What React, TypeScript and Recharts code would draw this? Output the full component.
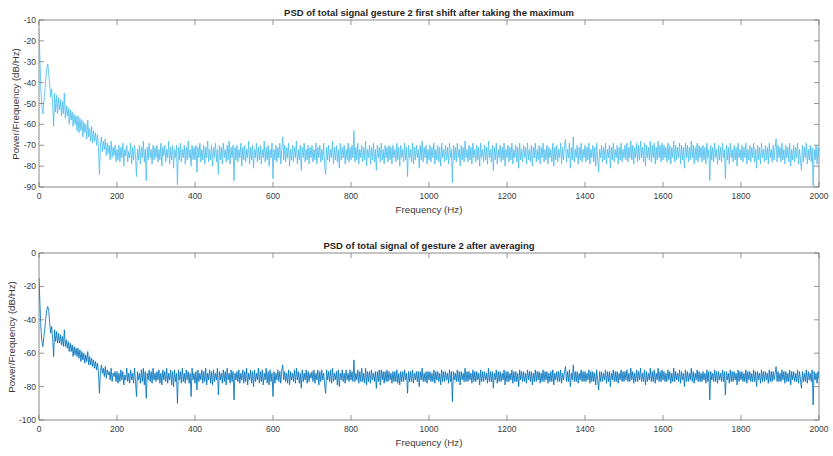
import { LineChart, Line, XAxis, YAxis, ReferenceArea } from 'recharts';

// spacing between PSD bins (Hz)
const FREQ_STEP = 2.5;

const freqTicks = [0, 200, 400, 600, 800, 1000, 1200, 1400, 1600, 1800, 2000];
const maxTicks = [-90, -80, -70, -60, -50, -40, -30, -20, -10];
const avgTicks = [-100, -80, -60, -40, -20, 0];

// PSD after taking the maximum (dB/Hz), 2.5 Hz bins, one row = 100 Hz
const psdMax = [
  -14, -30, -44, -52, -55, -49, -44, -38, -33, -31, -36, -41, -47, -43, -50, -61, -45, -54, -46, -55, -47, -53, -48, -56, -49, -55, -45, -57, -51, -56, -52, -60, -53, -58, -54, -61, -55, -60, -56, -63,
  -56, -64, -57, -63, -58, -66, -59, -64, -60, -67, -58, -66, -62, -68, -61, -69, -63, -68, -64, -70, -65, -71, -84, -70, -66, -73, -68, -72, -67, -75, -69, -74, -70, -77, -68, -76, -71, -75, -70, -78,
  -72, -77, -70, -78, -71, -76, -69, -80, -72, -75, -70, -78, -73, -76, -69, -79, -71, -77, -70, -76, -85, -72, -77, -70, -79, -71, -76, -68, -78, -72, -87, -71, -77, -69, -76, -72, -79, -70, -77, -71,
  -76, -70, -78, -72, -77, -69, -80, -71, -75, -70, -78, -72, -76, -68, -79, -71, -77, -70, -81, -72, -76, -70, -89, -71, -77, -69, -78, -72, -76, -70, -79, -71, -77, -68, -76, -72, -80, -70, -77, -71,
  -77, -70, -83, -71, -76, -69, -78, -72, -77, -70, -79, -71, -76, -68, -78, -72, -77, -70, -80, -71, -76, -69, -78, -72, -84, -70, -77, -71, -79, -69, -76, -72, -78, -70, -77, -68, -79, -71, -76, -70,
  -87, -71, -77, -70, -78, -72, -76, -69, -80, -71, -77, -70, -78, -72, -76, -68, -79, -71, -77, -70, -81, -72, -76, -69, -78, -71, -77, -70, -79, -72, -76, -68, -78, -71, -77, -70, -80, -72, -76, -69,
  -86, -72, -77, -70, -78, -71, -76, -69, -79, -72, -66, -77, -70, -78, -71, -76, -69, -80, -72, -77, -70, -78, -71, -76, -68, -79, -72, -77, -70, -82, -71, -76, -69, -78, -72, -77, -70, -79, -71, -76,
  -70, -78, -72, -77, -69, -79, -71, -76, -70, -78, -72, -77, -69, -80, -84, -71, -77, -70, -78, -72, -76, -68, -79, -71, -77, -70, -78, -72, -81, -69, -77, -71, -76, -70, -79, -72, -77, -69, -78, -71,
  -77, -70, -76, -63, -78, -71, -77, -69, -79, -72, -76, -70, -78, -71, -77, -68, -80, -72, -76, -70, -79, -71, -77, -69, -78, -72, -82, -70, -76, -71, -78, -69, -77, -72, -79, -70, -76, -71, -78, -70,
  -77, -71, -79, -70, -76, -72, -78, -69, -77, -71, -80, -70, -76, -72, -78, -69, -77, -71, -85, -70, -76, -72, -78, -69, -79, -71, -77, -70, -76, -72, -81, -70, -77, -68, -78, -71, -76, -70, -79, -72,
  -77, -70, -78, -71, -76, -69, -79, -72, -77, -70, -78, -71, -80, -69, -76, -72, -78, -70, -77, -71, -79, -69, -76, -72, -88, -70, -77, -71, -78, -69, -76, -72, -80, -70, -77, -71, -78, -68, -76, -72,
  -78, -70, -77, -71, -79, -69, -76, -72, -78, -70, -77, -71, -80, -69, -76, -72, -78, -70, -77, -71, -79, -68, -76, -72, -78, -70, -82, -71, -77, -69, -79, -72, -76, -70, -78, -71, -77, -69, -80, -72,
  -76, -70, -78, -71, -77, -69, -79, -72, -76, -70, -78, -71, -81, -69, -77, -72, -78, -70, -76, -71, -79, -69, -77, -72, -78, -70, -80, -71, -76, -69, -78, -72, -77, -70, -79, -71, -76, -69, -78, -72,
  -77, -70, -79, -71, -76, -72, -78, -69, -80, -71, -77, -70, -78, -72, -76, -69, -79, -71, -77, -70, -67, -78, -72, -76, -69, -81, -71, -77, -66, -78, -72, -76, -70, -79, -71, -77, -69, -78, -72, -76,
  -70, -78, -71, -77, -69, -79, -72, -76, -70, -78, -71, -80, -69, -77, -83, -72, -76, -70, -78, -71, -77, -69, -79, -72, -76, -70, -81, -71, -77, -69, -78, -72, -76, -70, -79, -71, -77, -69, -78, -72,
  -76, -70, -77, -69, -78, -71, -76, -68, -77, -70, -79, -71, -76, -69, -78, -70, -77, -68, -76, -71, -78, -69, -80, -70, -76, -71, -77, -68, -78, -70, -76, -69, -79, -71, -77, -68, -76, -70, -78, -69,
  -77, -70, -76, -71, -78, -69, -77, -70, -79, -71, -76, -68, -78, -70, -77, -71, -76, -69, -79, -70, -77, -71, -81, -69, -76, -70, -78, -71, -77, -68, -76, -70, -79, -71, -77, -69, -78, -70, -76, -71,
  -78, -70, -77, -71, -79, -69, -76, -72, -87, -70, -77, -71, -78, -69, -76, -72, -79, -70, -77, -71, -78, -69, -76, -72, -86, -70, -77, -71, -79, -69, -76, -72, -78, -70, -77, -71, -80, -69, -76, -72,
  -77, -70, -78, -71, -76, -69, -79, -72, -77, -70, -78, -71, -76, -69, -78, -72, -81, -70, -77, -71, -79, -69, -76, -72, -78, -70, -77, -71, -79, -69, -76, -72, -78, -70, -77, -71, -67, -78, -70, -76,
  -71, -78, -69, -77, -72, -79, -70, -76, -71, -78, -69, -80, -72, -77, -70, -78, -71, -76, -69, -79, -72, -77, -82, -70, -78, -71, -76, -69, -79, -72, -77, -70, -78, -71, -90, -72, -77, -70, -79, -71,
  -76,
];

// PSD after averaging (dB/Hz), same bins
const psdAvg = [
  -15, -31, -45, -53, -56, -50, -45, -39, -34, -32, -35, -42, -48, -44, -51, -62, -46, -53, -47, -54, -48, -54, -49, -55, -50, -56, -46, -56, -52, -57, -53, -59, -54, -59, -55, -62, -56, -61, -57, -62,
  -57, -63, -58, -65, -59, -64, -60, -66, -61, -65, -59, -67, -62, -67, -63, -68, -64, -69, -65, -70, -66, -72, -84, -71, -67, -72, -69, -74, -68, -75, -70, -73, -71, -76, -69, -77, -72, -74, -71, -77,
  -71, -78, -72, -77, -70, -76, -71, -79, -73, -76, -69, -77, -72, -78, -70, -76, -72, -78, -69, -77, -86, -71, -76, -72, -78, -70, -77, -69, -79, -71, -87, -72, -76, -70, -77, -71, -78, -69, -76, -72,
  -77, -71, -76, -70, -78, -72, -79, -70, -76, -71, -77, -69, -78, -72, -76, -70, -79, -71, -80, -70, -77, -72, -90, -70, -76, -71, -78, -69, -77, -72, -78, -70, -76, -71, -78, -72, -86, -69, -76, -72,
  -78, -71, -82, -70, -77, -72, -76, -70, -78, -71, -77, -69, -79, -72, -76, -70, -78, -71, -79, -70, -77, -72, -76, -69, -85, -71, -76, -72, -78, -70, -77, -71, -79, -69, -76, -72, -78, -70, -77, -71,
  -88, -72, -76, -71, -77, -70, -78, -72, -76, -70, -78, -71, -77, -69, -79, -72, -76, -70, -78, -71, -80, -70, -77, -72, -76, -69, -78, -71, -77, -70, -79, -72, -76, -69, -78, -71, -79, -70, -77, -72,
  -86, -71, -78, -72, -76, -70, -77, -71, -78, -70, -67, -76, -71, -77, -72, -78, -70, -79, -71, -76, -72, -77, -70, -78, -69, -76, -71, -78, -72, -81, -70, -77, -72, -76, -70, -78, -71, -77, -72, -75,
  -71, -77, -70, -78, -72, -76, -70, -79, -71, -77, -70, -76, -72, -79, -84, -70, -76, -71, -77, -70, -78, -69, -77, -72, -76, -71, -79, -70, -80, -72, -76, -70, -77, -72, -78, -70, -76, -72, -77, -70,
  -76, -71, -77, -64, -77, -72, -76, -70, -78, -71, -77, -69, -77, -72, -78, -69, -79, -71, -77, -71, -78, -70, -76, -72, -77, -71, -81, -71, -77, -70, -79, -70, -76, -71, -78, -71, -77, -70, -77, -71,
  -76, -72, -78, -71, -77, -71, -77, -70, -78, -72, -79, -71, -77, -71, -77, -70, -76, -72, -84, -71, -77, -71, -77, -70, -78, -72, -76, -71, -77, -71, -80, -71, -76, -69, -77, -72, -77, -71, -78, -71,
  -76, -71, -77, -72, -77, -70, -78, -71, -76, -71, -77, -72, -79, -70, -77, -71, -77, -71, -76, -72, -78, -70, -77, -71, -89, -71, -76, -72, -77, -70, -77, -71, -79, -71, -76, -72, -77, -69, -77, -71,
  -77, -71, -76, -72, -78, -70, -77, -71, -77, -71, -76, -72, -79, -70, -77, -71, -77, -71, -76, -72, -78, -69, -77, -71, -77, -71, -81, -72, -76, -70, -78, -71, -77, -71, -77, -72, -76, -70, -79, -71,
  -77, -71, -77, -72, -76, -70, -78, -71, -77, -71, -77, -72, -80, -70, -76, -71, -77, -71, -77, -72, -78, -70, -76, -71, -77, -71, -79, -72, -77, -70, -77, -71, -76, -71, -78, -72, -77, -70, -77, -71,
  -76, -71, -78, -72, -77, -71, -77, -70, -79, -72, -76, -71, -77, -71, -77, -70, -78, -72, -76, -71, -68, -77, -71, -77, -70, -80, -72, -76, -67, -77, -71, -77, -71, -78, -72, -76, -70, -77, -71, -77,
  -71, -77, -72, -76, -70, -78, -71, -77, -71, -77, -72, -79, -70, -76, -82, -71, -77, -71, -77, -72, -76, -70, -78, -71, -77, -71, -80, -72, -76, -70, -77, -71, -77, -71, -78, -72, -76, -70, -77, -71,
  -77, -71, -76, -70, -77, -72, -77, -69, -76, -71, -78, -72, -77, -70, -77, -71, -76, -69, -77, -72, -77, -70, -79, -71, -77, -72, -76, -69, -77, -71, -77, -70, -78, -72, -76, -69, -77, -71, -77, -70,
  -76, -71, -77, -72, -77, -70, -76, -71, -78, -72, -77, -69, -77, -71, -76, -72, -77, -70, -78, -71, -76, -72, -80, -70, -77, -71, -77, -72, -76, -69, -77, -71, -78, -72, -76, -70, -77, -71, -77, -72,
  -77, -71, -76, -72, -78, -70, -77, -71, -88, -71, -76, -72, -77, -70, -77, -71, -78, -71, -76, -72, -77, -70, -77, -71, -85, -71, -76, -72, -78, -70, -77, -71, -77, -71, -76, -72, -79, -70, -77, -71,
  -76, -71, -77, -72, -77, -70, -78, -71, -76, -71, -77, -72, -77, -70, -77, -71, -80, -71, -76, -72, -78, -70, -77, -71, -77, -71, -76, -72, -78, -70, -77, -71, -77, -71, -76, -72, -68, -77, -71, -77,
  -72, -77, -70, -76, -71, -78, -71, -77, -72, -77, -70, -79, -71, -76, -71, -77, -72, -77, -70, -78, -71, -76, -81, -71, -77, -72, -77, -70, -78, -71, -76, -72, -77, -70, -91, -71, -76, -72, -78, -71,
  -75,
];

const W = 833;
const H = 230;
const Y_AXIS_W = 39;
const X_AXIS_H = 43;
const margin = { top: 20, right: 14, bottom: 0, left: 0 };
const plotTop = margin.top;
const plotBottom = H - X_AXIS_H;
const plotLeft = Y_AXIS_W;
const plotRight = W - margin.right;

const AXIS = '#7a7a7a';
const TEXT = '#3a3a3a';
const FONT = '"Liberation Sans", Arial, sans-serif';

const toRows = (values: number[]) => values.map((v, i) => ({ freq: i * FREQ_STEP, psd: v }));

const XTick = ({ x, payload }: any) => (
  <g>
    <line x1={x} x2={x} y1={plotBottom} y2={plotBottom - 5} stroke={AXIS} strokeWidth={0.8} />
    <line x1={x} x2={x} y1={plotTop} y2={plotTop + 5} stroke={AXIS} strokeWidth={0.8} />
    <text x={x} y={plotBottom + 12} textAnchor="middle" fontSize={8.5} fill={TEXT} fontFamily={FONT}>
      {payload.value}
    </text>
  </g>
);

const YTick = ({ y, payload }: any) => (
  <g>
    <line x1={plotLeft} x2={plotLeft + 5} y1={y} y2={y} stroke={AXIS} strokeWidth={0.8} />
    <line x1={plotRight - 5} x2={plotRight} y1={y} y2={y} stroke={AXIS} strokeWidth={0.8} />
    <text x={plotLeft - 3} y={y + 3} textAnchor="end" fontSize={8.5} fill={TEXT} fontFamily={FONT}>
      {payload.value}
    </text>
  </g>
);

interface PanelProps {
  top: number;
  title: string;
  values: number[];
  color: string;
  yTicks: number[];
  yLabelX: number;
}

const Panel = ({ top, title, values, color, yTicks, yLabelX }: PanelProps) => {
  const yMin = yTicks[0];
  const yMax = yTicks[yTicks.length - 1];
  return (
    <div style={{ position: 'absolute', left: 0, top, width: W, height: H }}>
      <LineChart width={W} height={H} data={toRows(values)} margin={margin}>
        <XAxis
          dataKey="freq"
          type="number"
          domain={[0, 2000]}
          allowDataOverflow
          ticks={freqTicks}
          height={X_AXIS_H}
          axisLine={false}
          tickLine={false}
          tick={<XTick />}
          interval={0}
        />
        <YAxis
          type="number"
          domain={[yMin, yMax]}
          ticks={yTicks}
          width={Y_AXIS_W}
          axisLine={false}
          tickLine={false}
          tick={<YTick />}
          interval={0}
        />
        <Line
          dataKey="psd"
          type="linear"
          stroke={color}
          strokeWidth={0.85}
          dot={false}
          isAnimationActive={false}
        />
        <ReferenceArea
          x1={0}
          x2={2000}
          y1={yMin}
          y2={yMax}
          fill="none"
          stroke={AXIS}
          strokeWidth={0.9}
        />
      </LineChart>
      <div
        style={{
          position: 'absolute',
          left: plotLeft,
          width: plotRight - plotLeft,
          top: 7,
          textAlign: 'center',
          fontFamily: FONT,
          fontSize: 9.5,
          fontWeight: 'bold',
          color: '#1f1f1f',
        }}
      >
        {title}
      </div>
      <div
        style={{
          position: 'absolute',
          left: plotLeft,
          width: plotRight - plotLeft,
          top: plotBottom + 17,
          textAlign: 'center',
          fontFamily: FONT,
          fontSize: 9.7,
          color: TEXT,
        }}
      >
        Frequency (Hz)
      </div>
      <div
        style={{
          position: 'absolute',
          left: yLabelX,
          top: (plotTop + plotBottom) / 2,
          transform: 'translate(-50%, -50%) rotate(-90deg)',
          whiteSpace: 'nowrap',
          fontFamily: FONT,
          fontSize: 9.7,
          color: TEXT,
        }}
      >
        Power/Frequency (dB/Hz)
      </div>
    </div>
  );
};

export default function App() {
  return (
    <div style={{ position: 'absolute', left: 0, top: 0, width: W, height: 456, background: '#fff' }}>
      <Panel
        top={0}
        title="PSD of total signal gesture 2 first shift after taking the maximum"
        values={psdMax}
        color="#4DBEEE"
        yTicks={maxTicks}
        yLabelX={15}
      />
      <Panel
        top={233}
        title="PSD of total signal of gesture 2 after averaging"
        values={psdAvg}
        color="#0072BD"
        yTicks={avgTicks}
        yLabelX={11}
      />
    </div>
  );
}
